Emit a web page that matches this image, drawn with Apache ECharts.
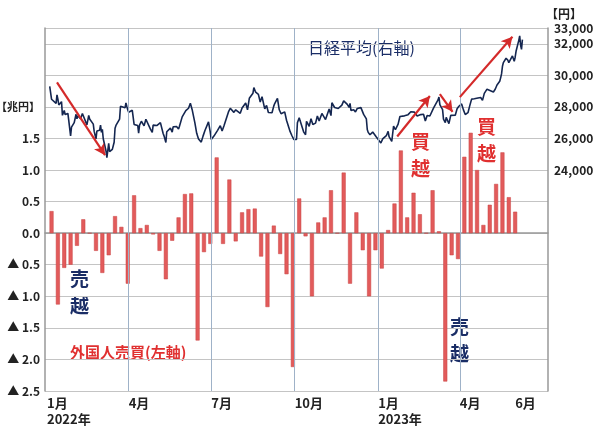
<!DOCTYPE html>
<html><head><meta charset="utf-8">
<script src="https://cdn.jsdelivr.net/npm/echarts@6/dist/echarts.min.js"></script>
<style>html,body{margin:0;padding:0;background:#fff}#c{width:600px;height:428px}</style>
</head><body><div id="c"></div>
<script>
// weekly foreign investor net trade (trillion yen)
const weekStart = '2022-01-06';
const flowValues = [0.35,-1.13,-0.55,-0.5,-0.2,0.22,0,-0.28,-0.63,-0.35,0.27,0.1,-0.8,0.6,0.08,0.13,-0.02,-0.28,-0.73,-0.12,0.25,0.62,0.63,-1.7,-0.3,-0.17,1.2,-0.17,0.85,-0.13,0.33,0.38,0.39,-0.37,-1.17,0.12,-0.33,-0.65,-2.12,0.55,-0.05,-1.0,0.17,0.25,0.68,0,0.96,-0.8,0.33,-0.27,-1.0,-0.27,-0.56,0.05,0.47,1.31,0.25,0.64,0.3,0,0.68,0.03,-2.35,-0.35,-0.41,1.21,1.59,1.0,0.13,0.45,0.78,1.28,0.57,0.34];
// Nikkei average
const nikkeiDates = ['2022-01-04','2022-01-05','2022-01-06','2022-01-07','2022-01-11','2022-01-12','2022-01-13','2022-01-14','2022-01-17','2022-01-18','2022-01-19','2022-01-20','2022-01-21','2022-01-24','2022-01-25','2022-01-26','2022-01-27','2022-01-28','2022-01-31','2022-02-01','2022-02-02','2022-02-03','2022-02-04','2022-02-07','2022-02-08','2022-02-09','2022-02-10','2022-02-14','2022-02-15','2022-02-16','2022-02-17','2022-02-18','2022-02-21','2022-02-22','2022-02-24','2022-02-25','2022-02-28','2022-03-01','2022-03-02','2022-03-03','2022-03-04','2022-03-07','2022-03-08','2022-03-09','2022-03-10','2022-03-11','2022-03-14','2022-03-15','2022-03-16','2022-03-17','2022-03-18','2022-03-22','2022-03-23','2022-03-24','2022-03-25','2022-03-28','2022-03-29','2022-03-30','2022-03-31','2022-04-01','2022-04-05','2022-04-07','2022-04-11','2022-04-12','2022-04-13','2022-04-15','2022-04-18','2022-04-20','2022-04-22','2022-04-25','2022-04-27','2022-04-28','2022-05-02','2022-05-06','2022-05-09','2022-05-10','2022-05-12','2022-05-13','2022-05-17','2022-05-19','2022-05-20','2022-05-24','2022-05-26','2022-05-27','2022-05-30','2022-06-01','2022-06-03','2022-06-06','2022-06-08','2022-06-09','2022-06-10','2022-06-13','2022-06-15','2022-06-17','2022-06-20','2022-06-22','2022-06-24','2022-06-28','2022-06-30','2022-07-01','2022-07-04','2022-07-06','2022-07-08','2022-07-11','2022-07-13','2022-07-15','2022-07-20','2022-07-22','2022-07-26','2022-07-28','2022-07-29','2022-08-02','2022-08-04','2022-08-08','2022-08-10','2022-08-12','2022-08-16','2022-08-17','2022-08-19','2022-08-22','2022-08-24','2022-08-26','2022-08-29','2022-08-31','2022-09-02','2022-09-06','2022-09-08','2022-09-09','2022-09-12','2022-09-13','2022-09-14','2022-09-16','2022-09-20','2022-09-22','2022-09-26','2022-09-28','2022-09-30','2022-10-03','2022-10-04','2022-10-06','2022-10-07','2022-10-11','2022-10-13','2022-10-14','2022-10-17','2022-10-19','2022-10-21','2022-10-24','2022-10-26','2022-10-28','2022-10-31','2022-11-02','2022-11-04','2022-11-08','2022-11-10','2022-11-11','2022-11-14','2022-11-16','2022-11-18','2022-11-22','2022-11-24','2022-11-25','2022-11-28','2022-11-30','2022-12-01','2022-12-02','2022-12-05','2022-12-07','2022-12-09','2022-12-13','2022-12-15','2022-12-16','2022-12-19','2022-12-20','2022-12-21','2022-12-22','2022-12-23','2022-12-26','2022-12-28','2022-12-30','2023-01-04','2023-01-05','2023-01-06','2023-01-10','2023-01-12','2023-01-13','2023-01-16','2023-01-18','2023-01-20','2023-01-23','2023-01-25','2023-01-27','2023-01-30','2023-02-01','2023-02-03','2023-02-06','2023-02-08','2023-02-10','2023-02-13','2023-02-15','2023-02-17','2023-02-20','2023-02-22','2023-02-24','2023-02-27','2023-03-01','2023-03-03','2023-03-06','2023-03-08','2023-03-09','2023-03-10','2023-03-13','2023-03-14','2023-03-15','2023-03-16','2023-03-17','2023-03-20','2023-03-22','2023-03-24','2023-03-27','2023-03-29','2023-03-31','2023-04-03','2023-04-05','2023-04-07','2023-04-10','2023-04-12','2023-04-14','2023-04-17','2023-04-19','2023-04-21','2023-04-24','2023-04-26','2023-04-28','2023-05-01','2023-05-02','2023-05-08','2023-05-10','2023-05-12','2023-05-15','2023-05-16','2023-05-17','2023-05-18','2023-05-19','2023-05-22','2023-05-24','2023-05-25','2023-05-26','2023-05-29','2023-05-30','2023-05-31','2023-06-01','2023-06-02','2023-06-05','2023-06-06','2023-06-07','2023-06-08','2023-06-09'];
const nikkeiValues = [29301,29332,28487,28478,28222,28765,28489,28124,28334,27467,27467,27772,27522,27588,27131,27011,26170,26717,27001,27078,27533,27241,27439,27248,27284,27579,27696,26865,26865,27460,27232,27122,26910,26449,25970,26476,26526,26844,26393,26577,25985,25221,24790,24717,25690,25162,25307,25346,25762,26652,26827,27224,28040,28110,28149,27943,28252,28027,27821,27665,27787,26888,26821,26334,26843,27093,26799,27217,27105,26590,26386,26847,26819,27003,26319,26167,25748,26427,26659,26402,26739,26748,26604,26781,27369,27457,27761,27915,28234,28246,27824,26987,26326,25963,25771,26149,26491,27049,26393,25935,26153,26107,26517,26812,26478,26788,27680,27914,27655,27815,27801,27594,27932,28249,27819,28546,28868,29222,28930,28794,28313,28641,27878,28091,27650,27626,28065,28214,28542,28614,27818,27567,27688,27153,26431,26173,25937,25937,26992,27311,27116,26401,26237,27090,26775,27257,26890,26974,27431,27105,27587,27663,27199,27872,27446,28263,27963,28028,27899,28115,28383,28283,28162,27968,28226,27777,27820,27686,27901,27954,28051,27527,27237,26568,26387,26507,26235,26405,26340,26094,25716,25820,25973,26175,26449,26119,25822,26791,26553,26906,27395,27382,27433,27346,27509,27693,27606,27670,27427,27501,27513,27531,27104,27453,27423,27516,27927,28237,28444,28623,28143,27832,27222,27229,27010,27334,26945,27466,27385,27476,27883,28041,28188,27813,27518,27633,28082,28493,28514,28606,28564,28593,28416,28856,29123,29157,28949,29122,29388,29626,29842,30093,30573,30808,31086,30957,30801,30916,31233,31328,30887,31148,31524,32217,32506,31913,31641,32265];
const monthTicks = ['2022-01-01','2022-04-01','2022-07-01','2022-10-01','2023-01-01','2023-04-01','2023-06-01'];
const monthLabels = ['1月\n2022年','4月','7月','10月','1月\n2023年','4月','6月'];
const rightTickLabels = [24000,26000,28000,30000,32000,33000];

const DAY = 86400000;
const t0 = new Date(weekStart + 'T00:00:00Z').getTime();
const barData = flowValues.map((v,i)=>[t0 + i*7*DAY, v]);
const lineData = nikkeiDates.map((d,i)=>[d, nikkeiValues[i]]);
const F = '"Noto Sans CJK JP", sans-serif';
const chart = echarts.init(document.getElementById('c'));
const vLines = monthTicks.map((d,i)=>({
  xAxis: d,
  lineStyle: {color: '#9fb2c8', width: (i===0||i===6)?0:1, type:'solid'},
  label: {formatter: monthLabels[i]}
}));
const arrow = (a,b)=>[{coord:a},{coord:b}];
chart.setOption({
  animation:false,
  textStyle:{fontFamily:F},
  grid:{left:45,right:52,top:28,bottom:37,containLabel:false,outerBoundsMode:'none'},
  xAxis:{type:'time',min:'2022-01-01',max:'2023-07-05',
    axisLabel:{show:false},axisTick:{show:false},splitLine:{show:false},
    axisLine:{lineStyle:{color:'#999',width:1.5}}},
  yAxis:[
    {type:'value',min:-2.5,max:3.25,interval:0.5,
     axisLine:{show:true,lineStyle:{color:'#999',width:1.5}},axisTick:{show:false},
     splitLine:{lineStyle:{color:'#c4c4c4'}},
     axisLabel:{color:'#222',fontWeight:'bold',fontSize:12,fontFamily:F,margin:5,
       rich:{u:{fontSize:11,fontWeight:'bold',color:'#222'}},
       formatter:v=>{ if(Math.abs(v-2)<1e-9) return '{u|【兆円】}'; if(v>1.5) return ''; if(v<0) return '▲ '+(-v).toFixed(1); return v.toFixed(1);}}},
    {type:'value',min:10000,max:33000,interval:1000,position:'right',
     name:'【円】',nameGap:8,nameTextStyle:{color:'#222',fontWeight:'bold',fontSize:12,align:'left',padding:[0,0,0,-2]},
     axisLine:{show:true,lineStyle:{color:'#999',width:1.5}},
     axisTick:{show:false},splitLine:{show:false},
     axisLabel:{color:'#222',fontWeight:'bold',fontSize:12,fontFamily:F,showMaxLabel:true,margin:6,
       formatter:v=>rightTickLabels.indexOf(v)>=0? v.toLocaleString('en-US'):''}}
  ],
  series:[
    {type:'bar',yAxisIndex:0,data:barData,barWidth:4,
     itemStyle:{color:'#e25b5b',borderColor:'#c94040',borderWidth:0.5},
     markLine:{silent:true,symbol:'none',data:vLines,
       label:{position:'start',color:'#222',fontWeight:'bold',fontSize:13,align:'left',lineHeight:16,distance:[-2,4],fontFamily:F}}},
    {type:'line',yAxisIndex:1,data:lineData,showSymbol:false,
     lineStyle:{color:'#142650',width:1.6},
     markLine:{silent:true,symbol:['none','arrow'],symbolSize:[9,11],
       lineStyle:{color:'#d42a2a',width:2.2,type:'solid'},label:{show:false},
       data:[arrow(['2022-01-12',29560],['2022-03-06',24940]),
             arrow(['2023-01-22',26125],['2023-02-27',28690]),
             arrow(['2023-03-10',28810],['2023-03-24',27690]),
             arrow(['2023-04-01',28620],['2023-05-29',32440])]}}
  ],
  graphic:[
    {type:'text',left:308,top:40,style:{text:'日経平均(右軸)',fill:'#1a2d66',font:'16px '+F}},
    {type:'text',left:70,top:345,style:{text:'外国人売買(左軸)',fill:'#e03030',font:'bold 15px '+F}},
    {type:'text',left:70,top:265,style:{text:'売\n越',fill:'#1a2d66',font:'bold 19px '+F,lineHeight:27}},
    {type:'text',left:450,top:313,style:{text:'売\n越',fill:'#1a2d66',font:'bold 19px '+F,lineHeight:27}},
    {type:'text',left:411,top:128,style:{text:'買\n越',fill:'#e03030',font:'bold 19px '+F,lineHeight:27}},
    {type:'text',left:477,top:113,style:{text:'買\n越',fill:'#e03030',font:'bold 19px '+F,lineHeight:27}}
  ]
});
</script></body></html>
